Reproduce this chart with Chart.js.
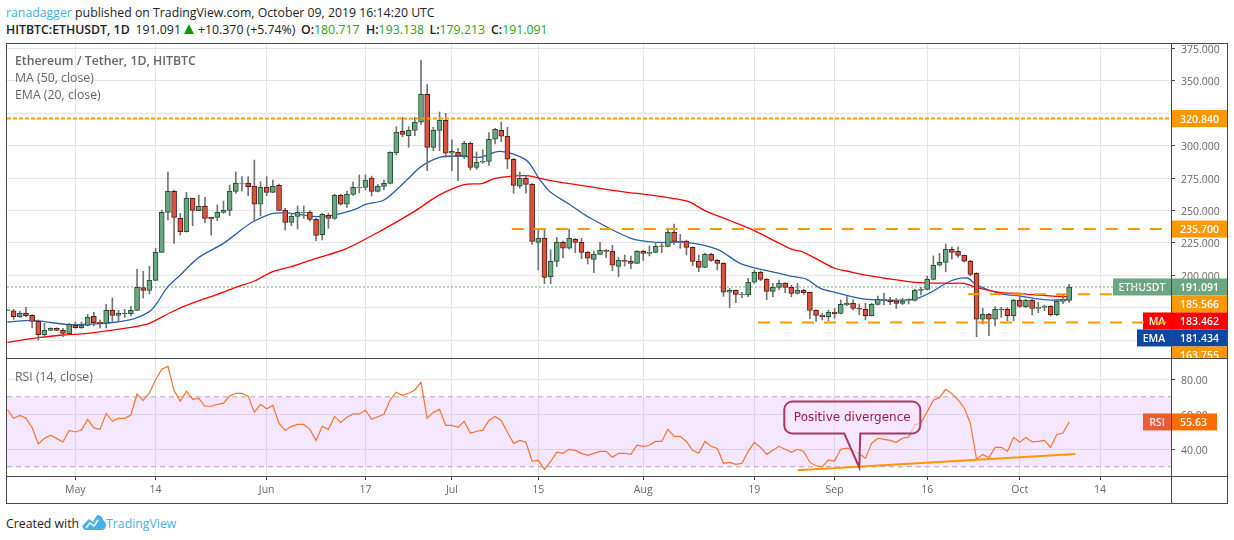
<!DOCTYPE html>
<html>
<head>
<meta charset="utf-8">
<title>ETHUSDT</title>
<script src="https://cdn.jsdelivr.net/npm/chart.js@4/dist/chart.umd.min.js"></script>
<style>
html, body { margin: 0; padding: 0; background: #fff; }
body { width: 1234px; height: 540px; position: relative; overflow: hidden; font-family: "Open Sans", sans-serif; color: #222; }
canvas { position: absolute; left: 7px; }
#priceChart { top: 44px; }
#rsiChart { top: 359px; }
.line { position: absolute; white-space: nowrap; font-size: 12.3px; }
.frame { position: absolute; background: #4a4a4a; }
.legend { position: absolute; left: 15px; font-size: 12.3px; color: #666; white-space: nowrap; }
.blue { color: #45b1e8; }
.up { color: #22a522; }
b { font-weight: 600; }
</style>
</head>
<body>
<div class="line" style="left:6px;top:4px"><span class="blue">ranadagger</span> published on TradingView.com, October 09, 2019 16:14:20 UTC</div>
<div class="line" style="left:6px;top:21px"><b>HITBTC:ETHUSDT, 1D</b></div>
<div class="line" style="left:135.5px;top:21px">191.091</div>
<div style="position:absolute;left:184px;top:24px;width:0;height:0;border-left:5.5px solid transparent;border-right:5.5px solid transparent;border-bottom:10px solid #0a9a0a"></div>
<div class="line" style="left:198px;top:21px">+10.370 (+5.74%)</div>
<div class="line" style="left:301px;top:21px"><b>O:</b><span class="up">180.717</span></div>
<div class="line" style="left:366px;top:21px"><b>H:</b><span class="up">193.138</span></div>
<div class="line" style="left:429.5px;top:21px"><b>L:</b><span class="up">179.213</span></div>
<div class="line" style="left:491px;top:21px"><b>C:</b><span class="up">191.091</span></div>

<canvas id="priceChart" width="1220" height="315"></canvas>
<canvas id="rsiChart" width="1220" height="144"></canvas>

<div class="frame" style="left:6px;top:43px;width:1222px;height:1px"></div>
<div class="frame" style="left:6px;top:503px;width:1222px;height:1px"></div>
<div class="frame" style="left:6px;top:43px;width:1px;height:461px"></div>
<div class="frame" style="left:1227px;top:43px;width:1px;height:461px"></div>
<div class="frame" style="left:1171px;top:43px;width:1px;height:461px"></div>
<div class="frame" style="left:6px;top:358px;width:1222px;height:1px"></div>
<div class="frame" style="left:6px;top:476px;width:1222px;height:1px"></div>

<div class="legend" style="top:52px;font-weight:600">Ethereum / Tether, 1D, HITBTC</div>
<div class="legend" style="top:69px">MA (50, close)</div>
<div class="legend" style="top:86px">EMA (20, close)</div>
<div class="legend" style="top:368px">RSI (14, close)</div>

<div class="line" style="left:6px;top:515px">Created with</div>
<svg style="position:absolute;left:82px;top:514px" width="24" height="16" viewBox="0 0 24 16">
<path d="M0 12 L7 5 L11 8 L15 1 C19 1 21 4 21 6 C23 7 24 9 24 11 C24 14 22 16 19 16 L4 16 C2 16 1 14 0 12 Z" fill="#45b1e8"/>
<path d="M4 14 L8 9 L12 12 L16 6" fill="none" stroke="#fff" stroke-width="1.5"/>
</svg>
<div class="line blue" style="left:106px;top:515px">TradingView</div>

<script>
// days are counted from May 1st 2019, first candle is Apr 20th
const firstDay = -11;
const viewDays = [-11.07, 177.5];

const tickDays = [0, 13, 31, 47, 61, 75, 92, 110, 123, 138, 153, 166];
const tickLabels = ['May', '14', 'Jun', '17', 'Jul', '15', 'Aug', '19', 'Sep', '16', 'Oct', '14'];

const opens = [172.8,172.8,168.2,170.8,169.2,164.6,154.3,157.7,159.2,157.7,155.1,
    161.5,159.7,161.5,168.5,163.8,163.1,173.1,169.2,170.8,170.5,
    173.1,190.6,188.5,196.2,217.8,248.6,264.8,244.0,233.7,259.4,
    249.9,253.2,244.7,244.7,248.6,250.1,264.8,270.9,270.9,268.6,
    254.8,267.8,264.0,269.4,250.1,240.9,245.5,248.1,248.6,243.2,
    231.4,246.3,244.0,261.7,254.8,262.5,267.6,267.8,275.0,264.8,
    268.6,270.9,294.6,311.0,307.7,311.8,318.0,339.5,298.7,311.8,
    319.5,294.1,294.9,291.8,301.8,283.3,287.2,287.9,304.9,311.8,
    307.2,289.5,268.7,274.8,270.2,225.5,228.6,199.0,210.8,225.5,
    220.9,227.8,225.5,217.8,212.4,216.2,219.3,218.5,207.0,211.6,
    210.8,209.3,218.5,217.0,217.8,222.7,222.4,233.2,226.2,226.2,
    221.6,210.8,206.2,216.2,211.6,209.3,187.0,188.5,185.2,185.2,
    194.7,202.4,197.0,187.7,190.8,193.9,190.8,186.2,188.5,187.0,
    173.1,169.5,168.2,171.6,170.8,177.2,178.5,174.6,173.9,169.0,
    177.7,181.6,181.1,180.3,178.5,180.8,180.8,188.5,189.3,197.0,
    207.8,210.1,220.1,218.6,215.5,210.9,201.6,166.2,170.0,166.2,
    174.1,173.9,169.0,180.8,175.9,180.8,174.6,175.4,176.2,169.8,180.0,180.717];

const highs = [173.4,173.9,172.3,175.4,169.8,165.6,163.1,159.7,159.7,159.2,163.1,
    164.1,164.1,170.0,171.5,165.6,177.7,182.6,173.1,173.9,176.2,
    204.7,203.1,207.0,220.9,250.4,279.7,265.8,247.8,264.0,259.4,
    261.9,260.1,244.7,254.2,257.3,269.6,279.7,276.1,276.1,288.9,
    272.2,276.1,273.5,270.4,251.7,247.8,253.5,253.5,249.9,244.0,
    247.8,247.8,262.7,262.5,265.0,272.0,277.4,277.4,276.5,270.2,
    273.5,295.3,314.6,321.8,314.6,321.8,366.0,347.2,314.1,325.9,
    324.9,304.4,297.9,303.3,302.8,295.1,296.7,310.0,313.3,318.2,
    314.1,290.0,279.7,276.6,270.9,235.7,235.5,219.6,229.3,226.5,
    235.7,228.6,228.6,218.5,218.8,225.7,220.1,223.2,213.9,215.7,
    214.9,219.1,219.3,222.7,225.5,225.5,236.5,239.6,231.6,227.3,
    222.1,215.7,217.0,217.0,212.4,209.8,190.0,188.8,187.0,197.7,
    204.2,203.4,197.5,193.9,196.5,194.4,192.4,193.9,189.3,187.2,
    173.4,170.8,173.3,174.6,181.1,183.6,181.1,178.0,178.5,178.5,
    184.1,186.2,183.1,182.3,182.3,182.1,189.3,190.8,199.5,215.0,
    217.0,224.2,221.9,221.9,215.7,211.6,202.1,174.6,170.8,175.9,
    175.4,175.4,181.6,184.9,181.6,181.6,179.3,177.2,176.7,181.1,184.9,193.138];

const lows = [172.8,166.2,167.7,168.2,159.5,150.2,152.3,157.4,157.4,152.8,154.9,
    159.2,159.2,161.0,161.0,159.5,159.5,164.6,164.9,167.7,168.7,
    172.8,182.6,185.7,195.9,217.5,242.7,224.7,231.1,233.4,238.3,
    249.9,240.6,231.1,242.2,247.8,246.0,263.2,265.0,261.4,241.4,
    245.8,261.4,263.7,249.9,235.0,238.3,235.8,244.0,241.7,226.8,
    227.3,236.3,243.2,254.2,252.4,261.7,263.5,265.8,261.2,264.3,
    266.1,270.4,292.8,306.9,298.7,307.7,316.4,280.7,296.1,296.1,
    291.0,280.7,273.0,290.0,281.2,281.8,286.4,284.8,301.3,303.1,
    282.3,263.3,267.1,263.3,223.9,204.2,193.6,193.6,206.7,213.4,
    220.3,217.5,212.9,208.8,202.1,216.0,213.7,203.6,199.0,207.2,
    205.2,209.0,211.4,215.0,217.5,217.5,222.1,223.9,220.9,215.7,
    207.5,202.9,206.0,210.8,204.2,183.9,175.1,179.0,182.9,183.6,
    193.9,196.0,181.3,183.6,188.8,186.7,183.6,185.7,185.4,166.7,
    164.6,165.7,165.1,166.9,170.3,176.7,173.4,169.5,165.7,168.7,
    177.0,177.2,177.5,174.4,177.5,178.0,180.3,184.9,188.8,196.5,
    207.3,202.9,212.6,213.9,210.3,199.6,152.8,162.6,153.6,161.0,
    167.7,165.1,165.1,175.4,175.4,169.5,171.3,172.8,168.7,169.0,178.2,179.213];

const closes = [173.4,168.2,170.8,169.0,164.6,154.3,157.7,159.2,157.7,155.4,162.3,
    159.7,161.5,167.7,163.6,162.8,173.1,169.2,170.8,170.5,173.1,
    190.8,188.5,196.2,217.8,248.6,264.8,244.7,233.7,259.4,250.1,
    253.2,244.0,243.7,248.6,250.1,264.8,270.9,271.2,268.4,254.8,
    267.8,264.0,268.6,250.1,240.9,245.5,248.6,248.6,243.2,230.9,
    247.0,244.0,261.7,254.8,262.5,267.8,267.8,273.5,264.8,268.6,
    270.9,294.8,310.2,308.7,311.8,318.0,339.5,298.7,311.8,319.5,
    294.1,295.6,291.8,301.8,283.3,287.2,287.9,304.9,312.6,307.2,
    289.5,269.4,274.8,270.2,226.2,228.6,198.5,210.8,225.5,220.9,
    228.6,225.5,217.8,213.2,216.2,219.3,218.5,207.8,211.6,210.8,
    209.3,218.5,217.0,217.8,222.4,222.4,233.2,226.2,226.0,221.6,
    210.8,206.2,216.2,211.6,209.3,187.0,188.5,185.4,185.4,194.7,
    202.4,197.0,187.7,190.8,193.9,190.8,186.2,188.5,186.7,173.1,
    169.2,168.2,171.6,170.5,177.7,178.5,174.6,173.9,169.0,177.7,
    181.6,181.1,179.8,178.5,180.3,181.1,188.5,189.3,197.0,207.8,
    210.1,220.1,217.8,215.5,210.9,200.8,166.2,170.0,166.2,173.9,
    173.4,169.0,180.8,176.2,180.8,174.6,175.4,176.2,169.8,180.0,180.8,191.091];

const maDays = [-11,-6,-2,2,9,12,16,20,23,26,29,32,35,39,44,50,55,59,63,66,68,73,77,85,87,99,102,106,110,116,118,123,125,128,136,142,144,146,150,153,155,159,161];
const maValues = [148.4,152.0,154.1,155.4,160.0,163.1,172.8,180.5,185.4,190.8,195.7,202.9,206.7,213.1,220.9,235.7,249.5,262.0,269.9,271.0,274.8,276.9,273.0,267.1,265.6,257.4,249.9,242.3,234.5,220.3,217.8,205.5,203.4,200.3,194.7,193.9,193.9,190.8,186.7,186.2,185.2,183.9,183.462];

const emaDays = [-11,-7,-5,-1,4,9,12,13,15,17,20,24,26.5,28.5,32,35,39,42.4,45.6,47,50,53.7,56,59,62.3,65.5,68.8,73,75.3,77,80.2,83,90,94.2,99,104,107.7,111.5,116.4,118.5,120.7,123,128.3,135.8,138.5,141.8,144.5,146,150,153,157.4,161];
const emaValues = [164.1,165.4,164.4,162.1,162.8,165.9,172.1,177.2,191.3,200.3,213.9,224.7,233.7,240.6,247.8,247.8,245.3,247.0,251.4,254.8,258.1,273.5,283.8,291.0,292.0,291.0,295.6,289.0,273.5,264.0,254.3,245.3,228.6,225.5,225.5,220.1,209.3,204.2,199.0,197.0,190.0,187.0,181.6,181.6,186.7,195.7,198.0,192.6,185.7,184.1,181.1,181.434];

const rsiValues = [62.5,57.7,59.4,57.7,52.5,43.0,46.3,48.0,46.1,44.2,50.8,
    49.9,51.0,57.1,52.2,51.4,60.5,56.0,57.7,57.7,59.6,
    71.6,68.0,72.2,79.6,85.7,87.4,73.5,67.6,73.1,68.5,
    69.1,64.6,64.6,65.7,66.4,70.4,72.0,72.0,70.4,61.1,
    65.7,63.2,65.1,54.8,50.8,53.1,54.2,54.2,51.4,45.1,
    53.1,51.4,58.8,55.4,58.3,60.2,60.2,62.3,57.1,58.6,
    60.0,68.2,72.6,70.8,72.0,73.9,78.3,57.7,61.1,62.8,
    53.7,53.7,52.5,56.0,49.1,50.3,50.8,56.5,58.8,56.5,
    49.7,43.4,45.1,44.0,33.3,33.7,28.5,33.1,38.3,37.7,
    40.0,39.4,37.7,36.5,37.7,38.8,38.8,35.4,37.7,37.7,
    37.1,42.3,41.7,42.3,44.5,44.5,51.4,47.4,47.4,44.5,
    39.4,37.7,44.5,41.7,40.5,32.0,32.5,31.4,32.0,38.8,
    44.0,41.1,37.1,39.4,41.7,40.0,38.3,40.0,38.8,32.5,
    30.6,30.0,33.9,33.3,40.0,40.7,39.2,37.5,34.8,43.4,
    46.3,45.7,45.1,44.0,46.3,47.0,53.9,55.2,61.5,68.0,
    69.5,74.3,71.8,68.2,63.6,54.8,34.3,37.1,35.2,41.1,
    41.1,38.8,46.8,44.0,46.8,44.2,44.5,45.1,41.1,48.5,49.3,55.63];

// hand drawn levels on the price pane
const levelValues = [320.84, 235.7, 185.566, 163.755];
const levelStarts = [-11.07, 70.7, 144.6, 110.6];
const levelEnds = [177.5, 176, 168, 176.7];

const lastPrice = 191.091;
const maLast = 183.462;
const emaLast = 181.434;

const rsiUpper = 70;
const rsiLower = 30;
const rsiLast = 55.63;
const trendDays = [117, 162];
const trendValues = [28.0, 37.3];
const calloutDay = 127;
const calloutValue = 29.6;
const calloutText = 'Positive divergence';

const GREEN = '#6ba583', GREEN_DARK = '#225437';
const RED = '#d75442', RED_DARK = '#5b1a13';
const ORANGE = '#ff9800';
const GRID = '#e6e6e6';
const AXIS_TEXT = '#666666';
const TAG_FONT = '600 10.5px "Open Sans"';

Chart.defaults.animation = false;
Chart.defaults.responsive = false;
Chart.defaults.devicePixelRatio = 1;
Chart.defaults.font.family = '"Open Sans", sans-serif';
Chart.defaults.font.size = 10.5;
Chart.defaults.elements.point.radius = 0;
Chart.defaults.plugins.legend.display = false;
Chart.defaults.plugins.tooltip.enabled = false;

const ohlcDays = closes.map((c, i) => firstDay + i);

function pairs(days, values) {
    return days.map((d, i) => ({ x: d, y: values[i] }));
}

function levelLine(i, dash) {
    return {
        type: 'line',
        data: pairs([levelStarts[i], levelEnds[i]], [levelValues[i], levelValues[i]]),
        borderColor: ORANGE,
        borderWidth: 2,
        borderDash: dash,
        order: 0
    };
}

// draws one value tag in the right hand axis, and the name part left of the axis
function drawTag(chart, y, value, color, name, nameWidth, nameColor, valueWidth) {
    const ctx = chart.ctx;
    const right = chart.chartArea.right;
    ctx.save();
    ctx.fillStyle = color;
    ctx.fillRect(right + 1, y - 8.5, valueWidth || 55, 17);
    if (name) {
        ctx.fillStyle = nameColor || color;
        ctx.fillRect(right - nameWidth, y - 8.5, nameWidth, 17);
    }
    ctx.fillStyle = '#ffffff';
    ctx.font = TAG_FONT;
    ctx.textBaseline = 'middle';
    ctx.textAlign = 'left';
    ctx.fillText(value, right + 9, y + 1);
    if (name) {
        ctx.textAlign = 'center';
        ctx.fillText(name, right - nameWidth / 2, y + 1);
    }
    ctx.restore();
}

const priceTags = {
    id: 'priceTags',
    beforeDatasetsDraw(chart) {
        const y = chart.scales.y;
        drawTag(chart, y.getPixelForValue(levelValues[0]), levelValues[0].toFixed(3), ORANGE);
        drawTag(chart, y.getPixelForValue(levelValues[1]), levelValues[1].toFixed(3), ORANGE);
        // these overlap at their real price so they get pushed down one under the other
        const stacked = [
            [lastPrice, GREEN, 'ETHUSDT', 58],
            [levelValues[2], ORANGE],
            [maLast, '#ff0000', 'MA', 28],
            [emaLast, '#0d47a1', 'EMA', 34],
            [levelValues[3], ORANGE]
        ];
        let prev = -100;
        stacked.forEach(t => {
            const py = Math.max(y.getPixelForValue(t[0]), prev + 17);
            drawTag(chart, py, t[0].toFixed(3), t[1], t[2], t[3]);
            prev = py;
        });
    }
};

const rsiExtras = {
    id: 'rsiExtras',
    beforeDatasetsDraw(chart) {
        const y = chart.scales.y;
        const py = y.getPixelForValue(rsiLast);
        drawTag(chart, py, rsiLast.toFixed(2), '#ff6d00', 'RSI', 28, '#f4651e', 45);
    },
    afterDraw(chart) {
        const ctx = chart.ctx;
        const tipX = chart.scales.x.getPixelForValue(calloutDay);
        const tipY = chart.scales.y.getPixelForValue(calloutValue);
        // box is placed relative to the point it talks about
        const l = tipX - 75, r = tipX + 61, t = tipY - 66, b = tipY - 34, rad = 8;
        ctx.save();
        ctx.beginPath();
        ctx.moveTo(l + rad, t);
        ctx.lineTo(r - rad, t);
        ctx.arcTo(r, t, r, t + rad, rad);
        ctx.lineTo(r, b - rad);
        ctx.arcTo(r, b, r - rad, b, rad);
        ctx.lineTo(tipX + 1, b);
        ctx.lineTo(tipX, tipY);
        ctx.lineTo(tipX - 15, b);
        ctx.lineTo(l + rad, b);
        ctx.arcTo(l, b, l, b - rad, rad);
        ctx.lineTo(l, t + rad);
        ctx.arcTo(l, t, l + rad, t, rad);
        ctx.closePath();
        ctx.fillStyle = 'rgba(246, 232, 253, 0.6)';
        ctx.fill();
        ctx.strokeStyle = '#a8385f';
        ctx.lineWidth = 2;
        ctx.stroke();
        ctx.fillStyle = '#a3154a';
        ctx.font = '12px "DejaVu Sans"';
        ctx.textAlign = 'center';
        ctx.textBaseline = 'middle';
        ctx.fillText(calloutText, (l + r) / 2, (t + b) / 2);
        ctx.restore();
    }
};

function xScale(showLabels) {
    return {
        type: 'linear',
        offset: false,
        min: viewDays[0],
        max: viewDays[1],
        afterBuildTicks: s => { s.ticks = tickDays.map(d => ({ value: d })); },
        afterFit: s => {
            s.height = showLabels ? 27 : 0;
            s.paddingLeft = 0;
            s.paddingRight = 0;
        },
        border: { display: false },
        grid: {
            offset: false,
            color: GRID,
            drawTicks: showLabels,
            tickLength: 4,
            tickColor: '#4a4a4a'
        },
        ticks: {
            display: showLabels,
            autoSkip: false,
            maxRotation: 0,
            padding: 4,
            color: AXIS_TEXT,
            callback: v => tickLabels[tickDays.indexOf(v)]
        }
    };
}

function yScale(min, max, step, digits) {
    return {
        position: 'right',
        min: min,
        max: max,
        afterFit: s => {
            s.width = 56;
            s.paddingTop = 0;
            s.paddingBottom = 0;
        },
        border: { display: false },
        grid: { color: GRID, tickLength: 4, tickColor: '#4a4a4a' },
        ticks: {
            stepSize: step,
            includeBounds: false,
            padding: 6,
            color: AXIS_TEXT,
            // empty first line with a small line height sits the text a bit under the grid line
            font: { lineHeight: '3px' },
            callback: v => ['', v.toFixed(digits)]
        }
    };
}

new Chart(document.getElementById('priceChart'), {
    type: 'bar',
    plugins: [priceTags],
    data: {
        datasets: [
            levelLine(0, [4, 2]),
            levelLine(1, [12, 10]),
            levelLine(2, [12, 10]),
            levelLine(3, [12, 10]),
            {
                // candle bodies
                type: 'bar',
                data: ohlcDays.map((d, i) => ({ x: d, y: [opens[i], closes[i]] })),
                grouped: false,
                barThickness: 5,
                borderWidth: 1,
                borderSkipped: false,
                backgroundColor: closes.map((c, i) => c >= opens[i] ? GREEN : RED),
                borderColor: closes.map((c, i) => c >= opens[i] ? GREEN_DARK : RED_DARK),
                order: 2
            },
            {
                // wicks
                type: 'bar',
                data: ohlcDays.map((d, i) => ({ x: d, y: [lows[i], highs[i]] })),
                grouped: false,
                barThickness: 1,
                backgroundColor: '#737375',
                order: 3
            },
            {
                type: 'line',
                data: pairs(maDays, maValues),
                borderColor: '#ff0000',
                borderWidth: 1.3,
                tension: 0.3,
                order: 4
            },
            {
                type: 'line',
                data: pairs(emaDays, emaValues),
                borderColor: '#2a5db0',
                borderWidth: 1.3,
                tension: 0.3,
                order: 5
            },
            {
                type: 'line',
                data: pairs(viewDays, [lastPrice, lastPrice]),
                borderColor: GREEN,
                borderWidth: 1,
                borderDash: [2, 2],
                order: 6
            }
        ]
    },
    options: {
        layout: { autoPadding: false, padding: 0 },
        scales: {
            x: xScale(false),
            y: yScale(135.6, 378.3, 25, 3)
        }
    }
});

new Chart(document.getElementById('rsiChart'), {
    type: 'line',
    plugins: [rsiExtras],
    data: {
        datasets: [
            {
                data: pairs(trendDays, trendValues),
                borderColor: ORANGE,
                borderWidth: 2,
                order: 0
            },
            {
                data: ohlcDays.map((d, i) => ({ x: d, y: rsiValues[i] })),
                borderColor: '#f9722b',
                borderWidth: 1.2,
                order: 1
            },
            {
                data: pairs(viewDays, [rsiUpper, rsiUpper]),
                borderColor: '#b5a8b8',
                borderWidth: 1,
                borderDash: [5, 4],
                backgroundColor: 'rgba(153, 21, 255, 0.1)',
                fill: { value: rsiLower },
                order: 2
            },
            {
                data: pairs(viewDays, [rsiLower, rsiLower]),
                borderColor: '#b5a8b8',
                borderWidth: 1,
                borderDash: [5, 4],
                order: 3
            }
        ]
    },
    options: {
        layout: { autoPadding: false, padding: 0 },
        scales: {
            x: xScale(true),
            y: yScale(24.74, 91.6, 20, 2)
        }
    }
});
</script>
</body>
</html>
